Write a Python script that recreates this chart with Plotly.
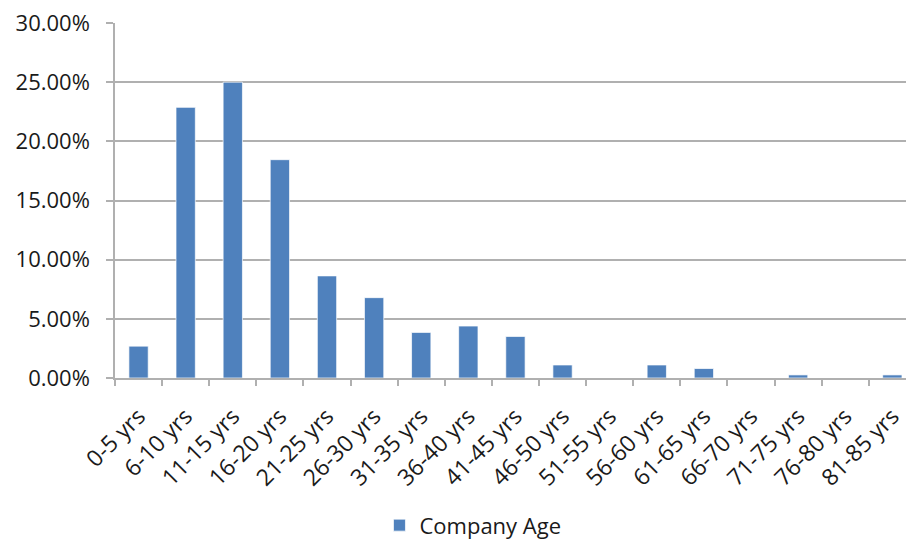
import plotly.graph_objects as go

categories = ["0-5 yrs", "6-10 yrs", "11-15 yrs", "16-20 yrs", "21-25 yrs", "26-30 yrs",
              "31-35 yrs", "36-40 yrs", "41-45 yrs", "46-50 yrs", "51-55 yrs", "56-60 yrs",
              "61-65 yrs", "66-70 yrs", "71-75 yrs", "76-80 yrs", "81-85 yrs"]
values = [0.0269, 0.2287, 0.2500, 0.1845, 0.0863, 0.0679, 0.0385, 0.0439, 0.0351,
          0.0110, 0.0, 0.0110, 0.0080, 0.0, 0.0026, 0.0, 0.0026]
series_name = "Company Age"

FONT = "Open Sans"
TXT = "#1a1a1a"
GRID = "#b0b0b0"

fig = go.Figure()
fig.add_trace(go.Bar(
    x=categories, y=values, name=series_name,
    marker=dict(color="#4f81bd", line=dict(color="rgba(255,255,255,0.7)", width=1)),
    width=0.41, showlegend=True,
))

fig.update_layout(
    width=906, height=536,
    margin=dict(l=107, r=0, t=15, b=166, autoexpand=False),
    paper_bgcolor="white", plot_bgcolor="white",
    font=dict(family=FONT, size=22, color=TXT),
    showlegend=True,
    legend=dict(orientation="h", xref="container", yref="paper",
                x=0.41, y=-0.415, xanchor="left", yanchor="middle",
                font=dict(family=FONT, size=22, color=TXT),
                itemwidth=30, bgcolor="rgba(0,0,0,0)"),
)
fig.update_xaxes(
    type="category", range=[-0.5, 16.46], tickangle=-45,
    showline=True, linecolor=GRID, linewidth=1.5,
    ticks="outside", ticklen=6, tickcolor=GRID, tickwidth=1.5,
    tickson="boundaries", showgrid=False, automargin=False,
    ticklabelstandoff=14, ticklabeloverflow="allow",
    tickfont=dict(family=FONT, size=23, color=TXT),
)
fig.update_yaxes(
    range=[0, 0.30], dtick=0.05, tickformat=".2%",
    showgrid=True, gridcolor=GRID, gridwidth=1.5,
    showline=True, linecolor=GRID, linewidth=1.5,
    ticks="outside", ticklen=7, tickcolor=GRID, tickwidth=1.5,
    zeroline=False, automargin=False,
    ticklabelstandoff=12, ticklabeloverflow="allow",
    tickfont=dict(family=FONT, size=22, color=TXT),
)

fig.write_html("out.html")
